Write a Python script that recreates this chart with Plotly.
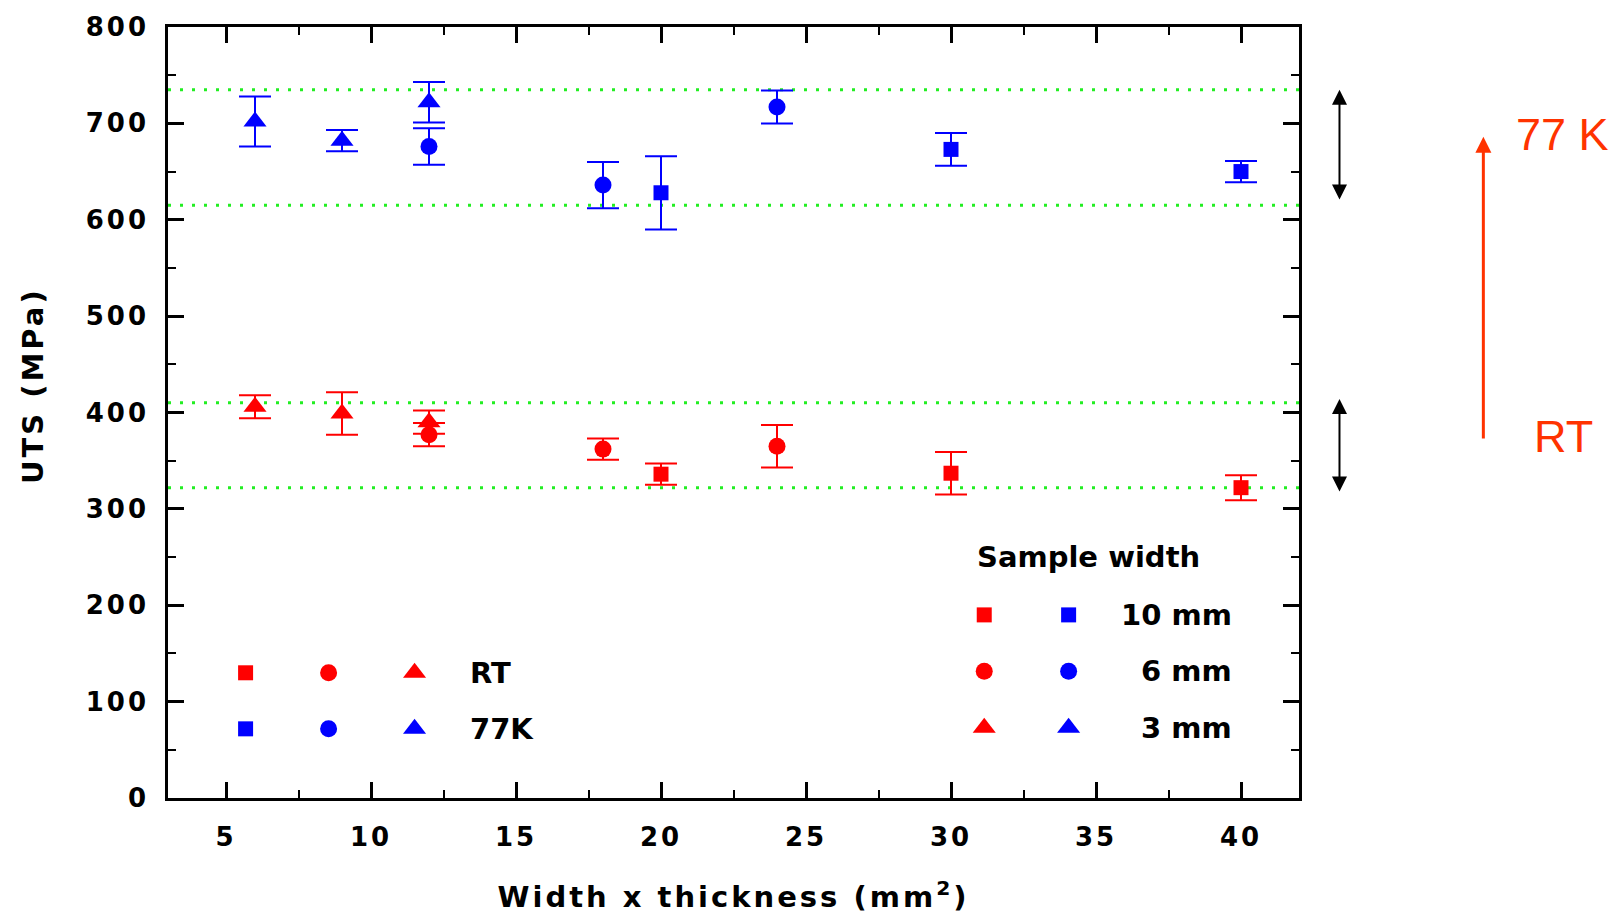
import plotly.graph_objects as go

# ---------------- data ----------------
# x = width x thickness (mm^2), y = UTS (MPa), err = error bar half-length
rt_10mm_x = [20, 30, 40]
rt_10mm_y = [336, 337, 322]
rt_10mm_err = [11, 22, 13]

rt_6mm_x = [12, 18, 24]
rt_6mm_y = [377, 362, 365]
rt_6mm_err = [12, 11, 22]

rt_3mm_x = [6, 9, 12]
rt_3mm_y = [406, 399, 390]
rt_3mm_err = [12, 22, 12]

k77_10mm_x = [20, 30, 40]
k77_10mm_y = [628, 673, 650]
k77_10mm_err = [38, 17, 11]

k77_6mm_x = [12, 18, 24]
k77_6mm_y = [676, 636, 717]
k77_6mm_err = [19, 24, 17]

k77_3mm_x = [6, 9, 12]
k77_3mm_y = [702, 682, 722]
k77_3mm_err = [26, 11, 21]

# dotted guide levels (MPa)
band_levels = [735, 615, 410, 322]
# double-arrow spans (MPa): (top, bottom)
k77_span = (735, 621)
rt_span = (414, 318)
# big RT -> 77 K arrow (MPa): (tail, tip)
transition_arrow = (373, 686)

x_ticks = [5, 10, 15, 20, 25, 30, 35, 40]
y_ticks = [0, 100, 200, 300, 400, 500, 600, 700, 800]
X_RANGE = [3, 42]
Y_RANGE = [0, 800]

RED = "#FF0000"
BLUE = "#0000FF"
ORANGE = "#FF3300"
BOLD = dict(family="DejaVu Sans", weight="bold", color="black")

SYMBOLS = {"10mm": "square", "6mm": "circle", "3mm": "triangle-up"}
SIZES = {"square": 15, "circle": 17, "triangle-up": 20}


def ypap(v):
    return (v - Y_RANGE[0]) / (Y_RANGE[1] - Y_RANGE[0])


PLOT_H = 920 - 25 - 120

fig = go.Figure()

series = [
    (rt_10mm_x, rt_10mm_y, rt_10mm_err, RED, "10mm"),
    (rt_6mm_x, rt_6mm_y, rt_6mm_err, RED, "6mm"),
    (rt_3mm_x, rt_3mm_y, rt_3mm_err, RED, "3mm"),
    (k77_10mm_x, k77_10mm_y, k77_10mm_err, BLUE, "10mm"),
    (k77_6mm_x, k77_6mm_y, k77_6mm_err, BLUE, "6mm"),
    (k77_3mm_x, k77_3mm_y, k77_3mm_err, BLUE, "3mm"),
]
for xs, ys, es, col, w in series:
    sym = SYMBOLS[w]
    fig.add_trace(go.Scatter(
        x=xs, y=ys, mode="markers",
        marker=dict(symbol=sym, size=SIZES[sym], color=col, line=dict(width=0)),
        error_y=dict(type="data", array=es, visible=True, color=col,
                     thickness=2, width=16),
        showlegend=False, hoverinfo="skip",
    ))

# ---------------- custom legends (overlay axes in [0,1]) ----------------
leg1_cols = [0.0686, 0.142, 0.218]
leg1_rows = [0.1624, 0.0897]
leg1_syms = ["square", "circle", "triangle-up"]
for row, col in zip(leg1_rows, [RED, BLUE]):
    for cx, sym in zip(leg1_cols, leg1_syms):
        fig.add_trace(go.Scatter(
            x=[cx], y=[row], xaxis="x2", yaxis="y2", mode="markers",
            marker=dict(symbol=sym, size=SIZES[sym], color=col),
            showlegend=False, hoverinfo="skip"))

leg2_cols = [0.7217, 0.7963]
leg2_rows = [0.2375, 0.1643, 0.0912]
for row, sym in zip(leg2_rows, leg1_syms):
    for cx, col in zip(leg2_cols, [RED, BLUE]):
        fig.add_trace(go.Scatter(
            x=[cx], y=[row], xaxis="x2", yaxis="y2", mode="markers",
            marker=dict(symbol=sym, size=SIZES[sym], color=col),
            showlegend=False, hoverinfo="skip"))

annotations = []
for row, label in zip(leg1_rows, ["RT", "77K"]):
    annotations.append(dict(x=0.265, y=row, xref="paper", yref="paper",
                            text=label, showarrow=False, xanchor="left",
                            yanchor="middle", font=dict(size=29, **BOLD)))
annotations.append(dict(x=0.7137, y=0.3127, xref="paper", yref="paper",
                        text="Sample width", showarrow=False, xanchor="left",
                        yanchor="middle", font=dict(size=29, **BOLD)))
for row, label in zip(leg2_rows, ["10 mm", "6 mm", "3 mm"]):
    annotations.append(dict(x=0.9423, y=row, xref="paper", yref="paper",
                            text=label, showarrow=False, xanchor="right",
                            yanchor="middle", font=dict(size=29, **BOLD)))

# y-axis title
annotations.append(dict(x=-0.1195, y=0.5347, xref="paper", yref="paper",
                        text="UTS (MPa)", textangle=-90, showarrow=False,
                        xanchor="center", yanchor="middle",
                        font=dict(size=29, **BOLD)))

annotations.append(dict(x=1.233, y=ypap(688), xref="paper", yref="paper",
                        text="77 K", showarrow=False, xanchor="center",
                        yanchor="middle",
                        font=dict(family="Liberation Sans", size=45, color=ORANGE)))
annotations.append(dict(x=1.234, y=ypap(375), xref="paper", yref="paper",
                        text="RT", showarrow=False, xanchor="center",
                        yanchor="middle",
                        font=dict(family="Liberation Sans", size=45, color=ORANGE)))

shapes = []
for lv in band_levels:
    shapes.append(dict(type="line", xref="paper", x0=0, x1=1, yref="y",
                       y0=lv, y1=lv, layer="below",
                       line=dict(color="#22EE22", width=3, dash="3px,9px")))


def arrow_head(x, y_tip, up, w, h, color):
    d = -1 if up else 1
    return dict(type="path", xref="paper", yref="paper",
                xsizemode="pixel", ysizemode="pixel",
                xanchor=x, yanchor=ypap(y_tip),
                path=f"M0,0 L{-w/2},{d*h} L{w/2},{d*h} Z",
                fillcolor=color, line=dict(color=color, width=0))


# black double arrows
BX = 1.0358
for top, bot in [k77_span, rt_span]:
    hh = 15
    shapes.append(dict(type="line", xref="paper", yref="paper",
                       x0=BX, x1=BX,
                       y0=ypap(top) - (hh - 2) / PLOT_H,
                       y1=ypap(bot) + (hh - 2) / PLOT_H,
                       line=dict(color="black", width=2)))
    shapes.append(arrow_head(BX, top, True, 15, hh, "black"))
    shapes.append(arrow_head(BX, bot, False, 15, hh, "black"))

# orange arrow RT -> 77 K
RX = 1.163
shapes.append(dict(type="line", xref="paper", yref="paper", x0=RX, x1=RX,
                   y0=ypap(transition_arrow[0]),
                   y1=ypap(transition_arrow[1]) - 14 / PLOT_H,
                   line=dict(color=ORANGE, width=3)))
shapes.append(arrow_head(RX, transition_arrow[1], True, 16, 16, ORANGE))

axis_common = dict(
    showline=True, linecolor="black", linewidth=2.5, mirror="allticks",
    ticks="inside", ticklen=16, tickwidth=2.5, tickcolor="black",
    showgrid=False, zeroline=False,
    tickfont=dict(size=26, **BOLD),
)

fig.update_layout(
    width=1621, height=920,
    margin=dict(l=168, r=322, t=25, b=120),
    paper_bgcolor="white", plot_bgcolor="white",
    showlegend=False,
    xaxis=dict(range=X_RANGE, tickvals=x_ticks,
               minor=dict(ticks="inside", ticklen=8, tickwidth=2,
                          tickcolor="black", dtick=2.5, tick0=0),
               ticklabelstandoff=14,
               title=dict(text="Width x thickness (mm<sup>2</sup>)",
                          font=dict(size=29, **BOLD), standoff=36),
               **axis_common),
    yaxis=dict(range=Y_RANGE, tickvals=y_ticks,
               minor=dict(ticks="inside", ticklen=8, tickwidth=2,
                          tickcolor="black", dtick=50, tick0=0),
               ticklabelstandoff=11,
               **axis_common),
    xaxis2=dict(overlaying="x", range=[0, 1], visible=False, fixedrange=True),
    yaxis2=dict(overlaying="y", range=[0, 1], visible=False, fixedrange=True),
    annotations=annotations,
    shapes=shapes,
)

post_script = """
var gd = document.getElementsByClassName('plotly-graph-div')[0];
gd.querySelectorAll('.xtick text, .ytick text').forEach(function(t){ t.style.letterSpacing = '3px'; });
gd.querySelectorAll('.g-xtitle text').forEach(function(t){ t.style.letterSpacing = '3px'; });
gd.querySelectorAll('.annotation-text').forEach(function(t){
  if (t.textContent === 'UTS (MPa)') { t.style.letterSpacing = '3px'; }
});
"""

fig.write_html("out.html", post_script=post_script)
